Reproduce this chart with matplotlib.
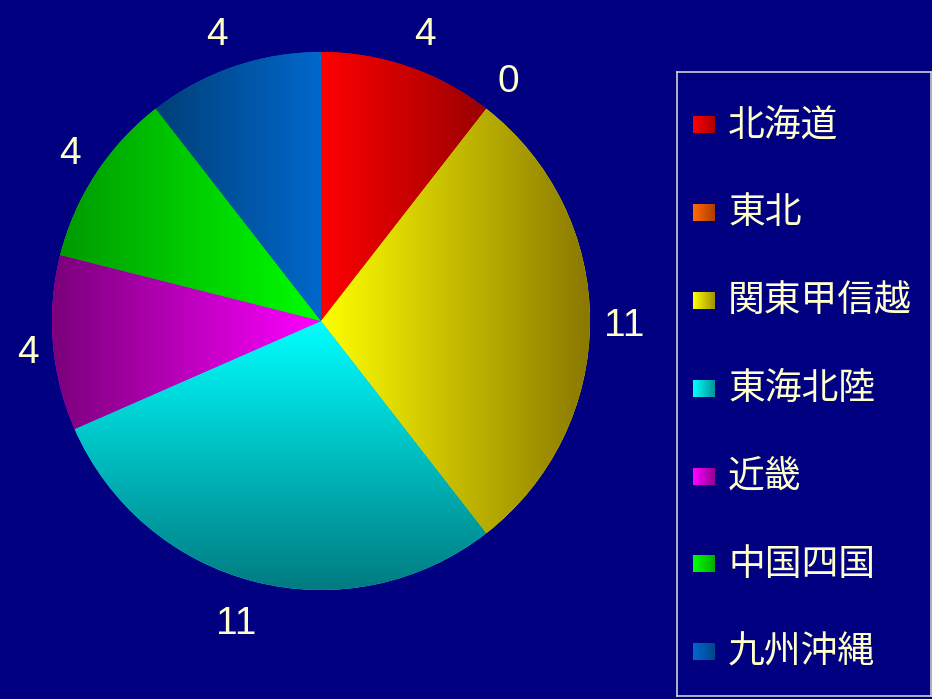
import numpy as np
import matplotlib
matplotlib.use('Agg')
import matplotlib.pyplot as plt
from matplotlib.colors import to_rgb

# ---- data ----
regions = ['北海道', '東北', '関東甲信越', '東海北陸', '近畿', '中国四国', '九州沖縄']
counts = [4, 0, 11, 11, 4, 4, 4]
value_labels = [str(v) for v in counts]

# ---- style ----
bright = ['#ff0000', '#ff6a00', '#ffff00', '#00ffff', '#ff00ff', '#00ff00', '#0068cc']
dark = ['#990000', '#993300', '#8a7800', '#007a80', '#7a007a', '#009a00', '#003f78']
grad_dir = [(1, 0), (1, 0), (1, 0), (0, -1), (-1, 0), (-1, 0), (-1, 0)]

BG = '#000080'
TXT = '#ffffcc'
plt.rcParams['font.family'] = ['Noto Sans CJK JP', 'DejaVu Sans']

W, H = 932, 699
fig = plt.figure(figsize=(W / 100, H / 100), dpi=100, facecolor=BG)

cx, cy, R = 321, 321, 269
ax = fig.add_axes([(cx - R) / W, (H - cy - R) / H, 2 * R / W, 2 * R / H])
ax.set_facecolor(BG)
ax.axis('off')

wedges, texts = ax.pie(
    counts, labels=value_labels, startangle=90, counterclock=False, radius=1,
    labeldistance=1.1, colors=bright, wedgeprops=dict(linewidth=0),
    textprops=dict(color=TXT, fontsize=28, family=['Liberation Sans', 'DejaVu Sans']))

# place labels so that their nearest corner sits just outside the rim
renderer = fig.canvas.get_renderer()
for t in texts:
    t.set_ha('center')
    t.set_va('center')
    x, y = t.get_position()
    ang = np.arctan2(y, x)
    ux, uy = np.cos(ang), np.sin(ang)
    bb = t.get_window_extent(renderer)
    half_w = bb.width / 2 - 2
    half_h = 14
    D = 285 + 8 * abs(uy)
    px = D * ux + half_w * np.clip(3 * ux, -1, 1)
    py = D * uy + half_h * np.clip(3 * uy, -1, 1) - 5
    t.set_position((px / R, py / R))

# gradient fill clipped to each wedge
n = 600
xs = np.linspace(-1, 1, n)
X, Y = np.meshgrid(xs, xs[::-1])
for w, b, d, (dx, dy) in zip(wedges, bright, dark, grad_dir):
    if abs(w.theta2 - w.theta1) < 1e-9:
        continue
    v = w.get_path().vertices
    proj = v[:, 0] * dx + v[:, 1] * dy
    lo, hi = proj.min(), proj.max()
    P = X * dx + Y * dy
    t = np.clip((P - lo) / (hi - lo), 0, 1)
    c0 = np.array(to_rgb(b))
    c1 = np.array(to_rgb(d))
    img = c0[None, None, :] * (1 - t[..., None]) + c1[None, None, :] * t[..., None]
    im = ax.imshow(img, extent=[-1, 1, -1, 1], origin='upper',
                   zorder=w.get_zorder() + 0.1, interpolation='bilinear')
    im.set_clip_path(w)
ax.set_xlim(-1, 1)
ax.set_ylim(-1, 1)

# ---- legend box ----
lx0, ly0, lx1, ly1 = 677, 72, 931, 696
lg = fig.add_axes([lx0 / W, (H - ly1) / H, (lx1 - lx0) / W, (ly1 - ly0) / H])
lg.set_facecolor(BG)
lg.set_xticks([])
lg.set_yticks([])
for s in lg.spines.values():
    s.set_color('#d0d0d0')
    s.set_linewidth(1.2)
row0, step = 53, 87.8
g = np.linspace(0, 1, 32)
for i, (name, b, d) in enumerate(zip(regions, bright, dark)):
    yc = row0 + step * i
    c0 = np.array(to_rgb(b))
    c1 = np.array(to_rgb(d))
    sq = c0[None, None, :] * (1 - 0.8 * g[None, :, None]) + c1[None, None, :] * 0.8 * g[None, :, None]
    lg.imshow(sq, extent=[16, 38, yc + 8.5, yc - 8.5], aspect='auto', interpolation='bilinear')
    lg.text(51, yc, name, color=TXT, fontsize=26.5, va='center', ha='left')
lg.set_xlim(0, lx1 - lx0)
lg.set_ylim(ly1 - ly0, 0)

fig.savefig('out.png', dpi=100, facecolor=BG)
